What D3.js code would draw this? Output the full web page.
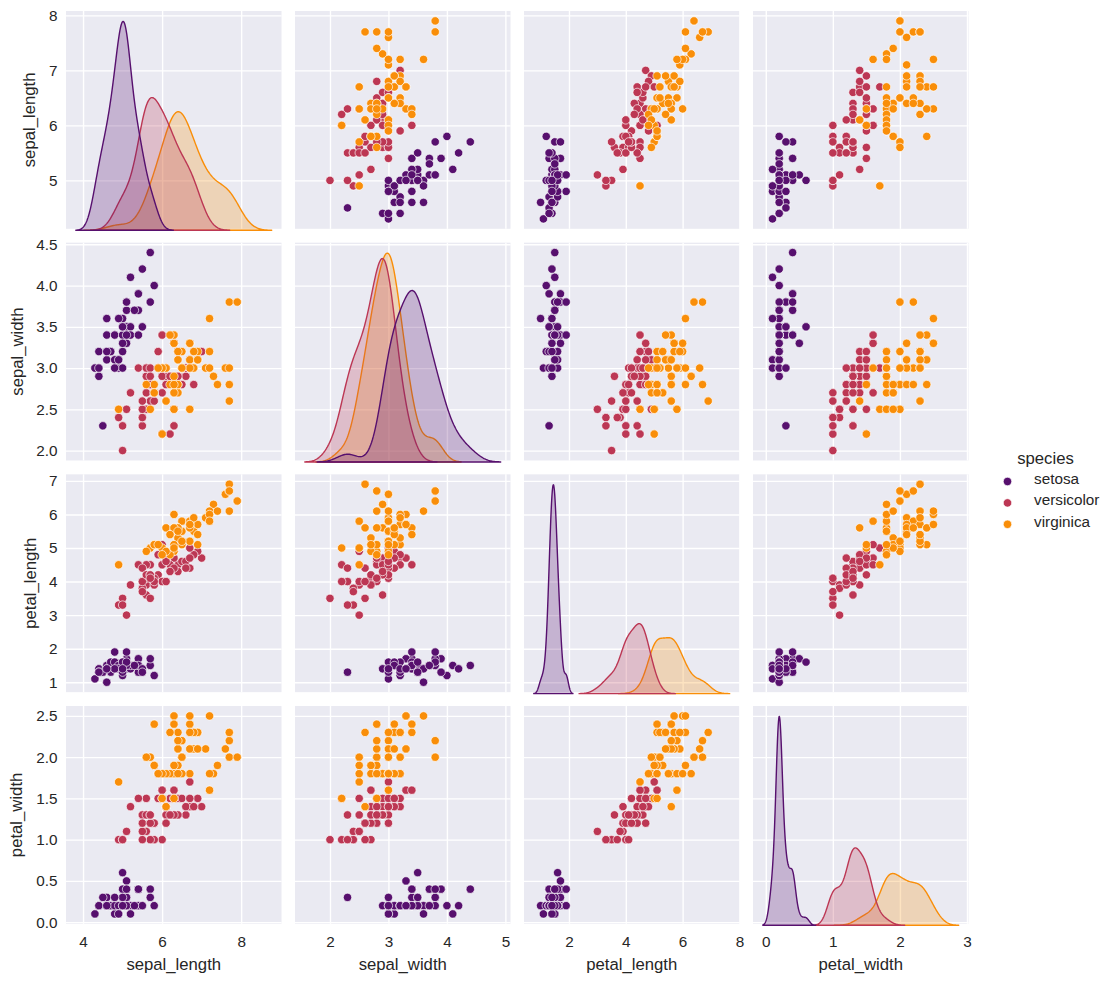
<!DOCTYPE html>
<html>
<head>
<meta charset="utf-8">
<script src="https://cdn.jsdelivr.net/npm/d3@7"></script>
<style>
html,body{margin:0;padding:0;background:#fff;}
svg{display:block;}
text{font-family:"Liberation Sans",Arial,sans-serif;fill:#262626;}
</style>
</head>
<body>
<svg id="chart" width="1113" height="983"></svg>
<script>
const categories = ["setosa","versicolor","virginica"];
const measures = ["sepal_length","sepal_width","petal_length","petal_width"];
const palette = ["#57106e","#bc3754","#f98e09"];

const setosa_sepal_length = [5.1,4.9,4.7,4.6,5.0,5.4,4.6,5.0,4.4,4.9,5.4,4.8,4.8,4.3,5.8,5.7,5.4,5.1,5.7,5.1,5.4,5.1,4.6,5.1,4.8,5.0,5.0,5.2,5.2,4.7,4.8,5.4,5.2,5.5,4.9,5.0,5.5,4.9,4.4,5.1,5.0,4.5,4.4,5.0,5.1,4.8,5.1,4.6,5.3,5.0];
const setosa_sepal_width = [3.5,3.0,3.2,3.1,3.6,3.9,3.4,3.4,2.9,3.1,3.7,3.4,3.0,3.0,4.0,4.4,3.9,3.5,3.8,3.8,3.4,3.7,3.6,3.3,3.4,3.0,3.4,3.5,3.4,3.2,3.1,3.4,4.1,4.2,3.1,3.2,3.5,3.6,3.0,3.4,3.5,2.3,3.2,3.5,3.8,3.0,3.8,3.2,3.7,3.3];
const setosa_petal_length = [1.4,1.4,1.3,1.5,1.4,1.7,1.4,1.5,1.4,1.5,1.5,1.6,1.4,1.1,1.2,1.5,1.3,1.4,1.7,1.5,1.7,1.5,1.0,1.7,1.9,1.6,1.6,1.5,1.4,1.6,1.6,1.5,1.5,1.4,1.5,1.2,1.3,1.4,1.3,1.5,1.3,1.3,1.3,1.6,1.9,1.4,1.6,1.4,1.5,1.4];
const setosa_petal_width = [0.2,0.2,0.2,0.2,0.2,0.4,0.3,0.2,0.2,0.1,0.2,0.2,0.1,0.1,0.2,0.4,0.4,0.3,0.3,0.3,0.2,0.4,0.2,0.5,0.2,0.2,0.4,0.2,0.2,0.2,0.2,0.4,0.1,0.2,0.2,0.2,0.2,0.1,0.2,0.2,0.3,0.3,0.2,0.6,0.4,0.3,0.2,0.2,0.2,0.2];

const versicolor_sepal_length = [7.0,6.4,6.9,5.5,6.5,5.7,6.3,4.9,6.6,5.2,5.0,5.9,6.0,6.1,5.6,6.7,5.6,5.8,6.2,5.6,5.9,6.1,6.3,6.1,6.4,6.6,6.8,6.7,6.0,5.7,5.5,5.5,5.8,6.0,5.4,6.0,6.7,6.3,5.6,5.5,5.5,6.1,5.8,5.0,5.6,5.7,5.7,6.2,5.1,5.7];
const versicolor_sepal_width = [3.2,3.2,3.1,2.3,2.8,2.8,3.3,2.4,2.9,2.7,2.0,3.0,2.2,2.9,2.9,3.1,3.0,2.7,2.2,2.5,3.2,2.8,2.5,2.8,2.9,3.0,2.8,3.0,2.9,2.6,2.4,2.4,2.7,2.7,3.0,3.4,3.1,2.3,3.0,2.5,2.6,3.0,2.6,2.3,2.7,3.0,2.9,2.9,2.5,2.8];
const versicolor_petal_length = [4.7,4.5,4.9,4.0,4.6,4.5,4.7,3.3,4.6,3.9,3.5,4.2,4.0,4.7,3.6,4.4,4.5,4.1,4.5,3.9,4.8,4.0,4.9,4.7,4.3,4.4,4.8,5.0,4.5,3.5,3.8,3.7,3.9,5.1,4.5,4.5,4.7,4.4,4.1,4.0,4.4,4.6,4.0,3.3,4.2,4.2,4.2,4.3,3.0,4.1];
const versicolor_petal_width = [1.4,1.5,1.5,1.3,1.5,1.3,1.6,1.0,1.3,1.4,1.0,1.5,1.0,1.4,1.3,1.4,1.5,1.0,1.5,1.1,1.8,1.3,1.5,1.2,1.3,1.4,1.4,1.7,1.5,1.0,1.1,1.0,1.2,1.6,1.5,1.6,1.5,1.3,1.3,1.3,1.2,1.4,1.2,1.0,1.3,1.2,1.3,1.3,1.1,1.3];

const virginica_sepal_length = [6.3,5.8,7.1,6.3,6.5,7.6,4.9,7.3,6.7,7.2,6.5,6.4,6.8,5.7,5.8,6.4,6.5,7.7,7.7,6.0,6.9,5.6,7.7,6.3,6.7,7.2,6.2,6.1,6.4,7.2,7.4,7.9,6.4,6.3,6.1,7.7,6.3,6.4,6.0,6.9,6.7,6.9,5.8,6.8,6.7,6.7,6.3,6.5,6.2,5.9];
const virginica_sepal_width = [3.3,2.7,3.0,2.9,3.0,3.0,2.5,2.9,2.5,3.6,3.2,2.7,3.0,2.5,2.8,3.2,3.0,3.8,2.6,2.2,3.2,2.8,2.8,2.7,3.3,3.2,2.8,3.0,2.8,3.0,2.8,3.8,2.8,2.8,2.6,3.0,3.4,3.1,3.0,3.1,3.1,3.1,2.7,3.2,3.3,3.0,2.5,3.0,3.4,3.0];
const virginica_petal_length = [6.0,5.1,5.9,5.6,5.8,6.6,4.5,6.3,5.8,6.1,5.1,5.3,5.5,5.0,5.1,5.3,5.5,6.7,6.9,5.0,5.7,4.9,6.7,4.9,5.7,6.0,4.8,4.9,5.6,5.8,6.1,6.4,5.6,5.1,5.6,6.1,5.6,5.5,4.8,5.4,5.6,5.1,5.1,5.9,5.7,5.2,5.0,5.2,5.4,5.1];
const virginica_petal_width = [2.5,1.9,2.1,1.8,2.2,2.1,1.7,1.8,1.8,2.5,2.0,1.9,2.1,2.0,2.4,2.3,1.8,2.2,2.3,1.5,2.3,2.0,2.0,1.8,2.1,1.8,1.8,1.8,2.1,1.6,1.9,2.0,2.2,1.5,1.4,2.3,2.4,1.8,1.8,2.1,2.4,2.3,1.9,2.3,2.5,2.3,1.9,2.0,2.3,1.8];

const xTicks = [[4,6,8],[2,3,4,5],[2,4,6,8],[0,1,2,3]];
const yTicks = [[5,6,7,8],[2.0,2.5,3.0,3.5,4.0,4.5],[1,2,3,4,5,6,7],[0.0,0.5,1.0,1.5,2.0,2.5]];
const yTickFormats = ["d",".1f","d",".1f"];
const yLabelX = [29.5,17.5,30,16.5];

const bySpecies = [
  [setosa_sepal_length,setosa_sepal_width,setosa_petal_length,setosa_petal_width],
  [versicolor_sepal_length,versicolor_sepal_width,versicolor_petal_length,versicolor_petal_width],
  [virginica_sepal_length,virginica_sepal_width,virginica_petal_length,virginica_petal_width]
];

// Layout
const left = 66, top0 = 11, stepX = 229, stepY = 231.67, pw = 215.5, ph = 217.8, baseDrop = 1.5;
const tickFont = 15.3, labelFont = 16.7;

// Gaussian KDE of each species, with Scott bandwidth, cut = 3, 200 grid points
function kde(values){
  const n = values.length;
  const bw = d3.deviation(values) * Math.pow(n,-0.2);
  const lo = d3.min(values) - 3*bw, hi = d3.max(values) + 3*bw;
  const grid = d3.range(200).map(i => lo + (hi-lo)*i/199);
  const c = 1/(n*bw*Math.sqrt(2*Math.PI));
  return grid.map(x => ({x, y: c*d3.sum(values, v => Math.exp(-0.5*((x-v)/bw)**2))}));
}
const densities = measures.map((m,j) => categories.map((c,s) => kde(bySpecies[s][j])));

function pad(lo,hi){const m=(hi-lo)*0.05;return [lo-m,hi+m];}
const xScales = measures.map((m,j) => {
  const lo = d3.min(densities[j], d => d[0].x), hi = d3.max(densities[j], d => d[d.length-1].x);
  return d3.scaleLinear().domain(pad(lo,hi)).range([0,pw]);
});
const yScales = measures.map((m,j) => {
  const all = bySpecies.flatMap(b => b[j]);
  return d3.scaleLinear().domain(pad(d3.min(all),d3.max(all))).range([ph,0]);
});
const dScales = measures.map((m,j) => {
  const mx = d3.max(densities[j], d => d3.max(d, p => p.y));
  return d3.scaleLinear().domain([0,mx*1.05]).range([ph+baseDrop,0]);
});

const svg = d3.select("#chart");

measures.forEach((rowName,r) => {
  measures.forEach((colName,c) => {
    const x = xScales[c], y = yScales[r];
    const g = svg.append("g").attr("transform",`translate(${left+c*stepX},${top0+r*stepY})`);
    g.append("rect").attr("width",pw).attr("height",ph).attr("fill","#eaeaf2");

    // grid
    const gx = g.append("g").attr("transform",`translate(0,${ph})`)
      .call(d3.axisBottom(x).tickValues(xTicks[c]).tickSize(-ph).tickFormat(""));
    const gy = g.append("g")
      .call(d3.axisLeft(y).tickValues(yTicks[r]).tickSize(-pw).tickFormat(""));
    [gx,gy].forEach(a => {
      a.select(".domain").remove();
      a.selectAll("line").attr("stroke","#fff").attr("stroke-width",1.39);
      a.selectAll("text").remove();
    });

    if(r===c){
      const d = dScales[c];
      const area = d3.area().x(p=>x(p.x)).y0(d(0)).y1(p=>d(p.y));
      d3.range(categories.length-1,-1,-1).forEach(s => {
        g.append("path").datum(densities[c][s]).attr("d",area)
          .attr("fill",palette[s]).attr("fill-opacity",0.25)
          .attr("stroke",palette[s]).attr("stroke-width",1.4).attr("stroke-linejoin","round");
      });
    } else {
      categories.forEach((name,s) => {
        g.append("g").selectAll("circle")
          .data(d3.range(bySpecies[s][c].length)).join("circle")
          .attr("cx",i=>x(bySpecies[s][c][i]))
          .attr("cy",i=>y(bySpecies[s][r][i]))
          .attr("r",4.2)
          .attr("fill",palette[s])
          .attr("stroke","#fff").attr("stroke-width",0.67);
      });
    }

    // tick labels
    if(c===0){
      const ax = g.append("g").call(d3.axisLeft(y).tickValues(yTicks[r]).tickSize(0).tickPadding(8.5).tickFormat(d3.format(yTickFormats[r])));
      ax.select(".domain").remove();
      ax.selectAll("text").attr("font-size",tickFont).attr("font-family",null);
      svg.append("text").attr("font-size",labelFont).attr("text-anchor","middle")
        .attr("transform",`translate(${yLabelX[r]},${top0+r*stepY+ph/2}) rotate(-90)`)
        .attr("dy","0.35em").text(rowName);
    }
    if(r===3){
      const ax = g.append("g").attr("transform",`translate(0,${ph})`)
        .call(d3.axisBottom(x).tickValues(xTicks[c]).tickSize(0).tickPadding(12.5).tickFormat(d3.format("d")));
      ax.select(".domain").remove();
      ax.selectAll("text").attr("font-size",tickFont).attr("font-family",null);
      svg.append("text").attr("font-size",labelFont).attr("text-anchor","middle")
        .attr("x",left+c*stepX+pw/2).attr("y",970).text(colName);
    }
  });
});

// legend
const legend = svg.append("g");
legend.append("text").attr("x",1045.5).attr("y",463.5).attr("font-size",labelFont).attr("text-anchor","middle").text("species");
categories.forEach((name,s) => {
  const ly = 481.5 + s*21.4;
  legend.append("circle").attr("cx",1007.5).attr("cy",ly).attr("r",4.2)
    .attr("fill",palette[s]).attr("stroke","#fff").attr("stroke-width",0.67);
  legend.append("text").attr("x",1034).attr("y",ly+2.5).attr("font-size",tickFont).text(name);
});
</script>
</body>
</html>
